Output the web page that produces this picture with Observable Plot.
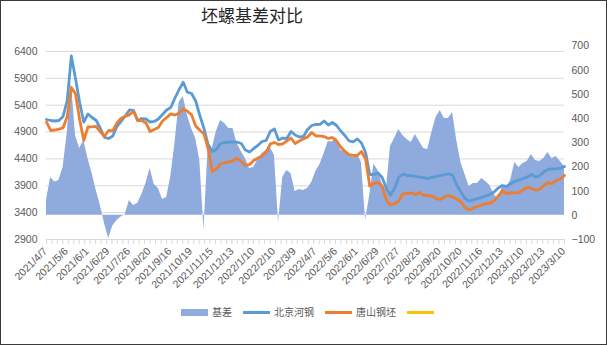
<!DOCTYPE html>
<html><head><meta charset="utf-8">
<script src="https://cdn.jsdelivr.net/npm/d3@7"></script>
<script src="https://cdn.jsdelivr.net/npm/@observablehq/plot@0.6"></script>
<style>
body{margin:0;background:#fff;}
#chart{position:relative;width:607px;height:345px;overflow:hidden;font-family:"Noto Sans CJK SC","Noto Sans",sans-serif;background:#fff;}
#border{position:absolute;left:0;top:0;width:607px;height:345px;box-sizing:border-box;border:1px solid #3a3a3a;pointer-events:none;}
#title{height:30px;line-height:30px;width:504px;text-align:center;font-size:17px;font-weight:normal;color:#262626;}
#plot svg{display:block;}
#legend{display:flex;align-items:center;height:14px;padding-left:181px;font-size:10px;color:#595959;}
#legend .sw{width:27px;margin-right:4px;}
#legend .tx{margin-right:11px;line-height:14px;}
</style></head>
<body>
<div id="chart">
  <div id="title">坯螺基差对比</div>
  <div id="plot"></div>
  <div id="legend"></div>
  <div id="border"></div>
</div>
<script>
// x-axis category labels (every 5th sampled point)
const xLabels = ["2021/4/7","2021/5/6","2021/6/1","2021/6/29","2021/7/26","2021/8/20","2021/9/16","2021/10/19","2021/11/15","2021/12/13","2022/1/10","2022/2/10","2022/3/9","2022/4/7","2022/5/6","2022/6/1","2022/6/29","2022/7/27","2022/8/23","2022/9/20","2022/10/20","2022/11/16","2022/12/13","2023/1/10","2023/2/13","2023/3/10"];
// 北京河钢 (left axis)
const beijing = [5134,5115,5106,5115,5190,5487,6316,5897,5450,5084,
5236,5171,5115,4966,4799,4780,4827,5003,5097,5199,
5311,5301,5115,5152,5143,5087,5097,5143,5227,5311,
5357,5534,5692,5828,5642,5618,5478,5208,4966,4668,
4538,4575,4687,4706,4711,4711,4711,4687,4566,4529,
4594,4650,4724,4743,4910,4957,4752,4789,4780,4910,
4845,4808,4817,4948,5022,5041,5044,5106,5031,5078,
5022,4920,4836,4734,4719,4773,4696,4520,4110,4110,
4138,4054,3849,3728,3849,4054,4119,4091,4091,4073,
4060,4054,4032,4058,4069,4091,4106,4121,4099,3915,
3784,3663,3613,3639,3659,3684,3710,3738,3784,3859,
3905,3887,3937,3980,4008,4036,4060,4110,4060,4086,
4157,4203,4216,4216,4227,4259];
// 唐山钢坯 (left axis)
const tangshan = [5084,4929,4938,4955,4979,5190,5729,5612,5134,4743,
4994,4998,5007,4901,4821,4929,4920,5072,5158,5193,
5221,5288,5115,5115,5069,4910,4948,4985,5106,5171,
5238,5216,5249,5329,5288,5221,5013,4933,4864,4594,
4166,4216,4309,4324,4346,4367,4413,4352,4278,4296,
4371,4417,4451,4520,4678,4706,4668,4678,4734,4789,
4687,4734,4771,4808,4892,4830,4827,4817,4780,4799,
4734,4622,4542,4482,4464,4464,4538,4398,3896,3946,
3961,3887,3635,3539,3565,3617,3751,3756,3769,3738,
3775,3723,3719,3708,3667,3639,3691,3717,3695,3652,
3602,3496,3449,3488,3514,3539,3565,3576,3620,3708,
3812,3756,3771,3766,3775,3821,3874,3849,3821,3834,
3905,3961,3939,3998,4026,4091];
// 基差 (right axis)
const basis = [61,156,138,144,198,339,550,330,276,310,
235,173,103,41,-34,-96,-44,-21,-7,3,
61,41,49,86,132,194,128,111,65,74,
161,297,467,492,413,359,318,227,-63,281,
276,347,392,380,359,359,297,264,235,194,
198,231,256,268,281,248,-30,156,185,173,
99,107,103,111,136,181,210,256,305,303,
322,268,264,248,239,254,219,-20,82,212,
185,132,103,285,318,355,330,314,301,334,
305,276,272,343,405,434,401,401,425,310,
219,169,119,132,132,152,140,123,86,65,
115,115,144,219,198,214,223,252,227,223,
235,260,235,243,223,202];
const leftTicks = [2900,3400,3900,4400,4900,5400,5900,6400];
const rightTicks = [-100,0,100,200,300,400,500,600,700];
const seriesNames = ["基差","北京河钢","唐山钢坯",""];
const seriesColors = ["#8FAADC","#5B9BD5","#ED7D31","#FFC000"];

// right axis value -> left axis space
const toL = v => 2900 + (v + 100) * 4.5;
const data = beijing.map((d, i) => ({i, bj: d, ts: tangshan[i], basis: basis[i]}));
const lastIdx = (xLabels.length - 1) * 5;
const minorTicks = d3.range(0, lastIdx + 0.01, 25 / 19);

const plot = Plot.plot({
  width: 607, height: 275,
  marginLeft: 46, marginRight: 43, marginTop: 15.6, marginBottom: 66,
  x: {domain: [0, lastIdx], axis: null},
  y: {domain: [2900, 6500], axis: null},
  style: {fontFamily: "'Liberation Sans', Arial, sans-serif", fontSize: "10.5px", color: "#595959", background: "transparent"},
  marks: [
    Plot.ruleY(leftTicks, {stroke: "#D9D9D9", strokeWidth: 1}),
    Plot.ruleX(minorTicks, {y1: 2900, y2: 2900 - 93, stroke: "#D9D9D9"}),
    Plot.areaY(data, {x: "i", y1: () => toL(0), y2: d => toL(d.basis), fill: seriesColors[0]}),
    Plot.lineY(data, {x: "i", y: "bj", stroke: seriesColors[1], strokeWidth: 2.8, strokeLinejoin: "round"}),
    Plot.lineY(data, {x: "i", y: "ts", stroke: seriesColors[2], strokeWidth: 2.8, strokeLinejoin: "round"}),
    Plot.text(leftTicks, {y: d => d, text: d => String(d), frameAnchor: "left", textAnchor: "end", dx: -9, fill: "#595959"}),
    Plot.text(rightTicks, {y: d => toL(d), text: d => d < 0 ? "\u2212" + Math.abs(d) : String(d), frameAnchor: "right", textAnchor: "start", dx: 7, fill: "#595959"}),
    Plot.text(xLabels, {x: (d, i) => i * 5, y: () => 2900, text: d => d, rotate: -45, textAnchor: "end", lineAnchor: "middle", dx: -1, dy: 10, fill: "#595959", fontSize: 10.5})
  ]
});
document.getElementById("plot").appendChild(plot);

const lg = document.getElementById("legend");
seriesNames.forEach((name, k) => {
  const sw = document.createElement("div");
  sw.className = "sw";
  sw.style.height = k === 0 ? "7px" : "3px";
  sw.style.background = seriesColors[k];
  lg.appendChild(sw);
  if (name) {
    const tx = document.createElement("span");
    tx.className = "tx";
    tx.textContent = name;
    lg.appendChild(tx);
  }
});
</script>
</body></html>
